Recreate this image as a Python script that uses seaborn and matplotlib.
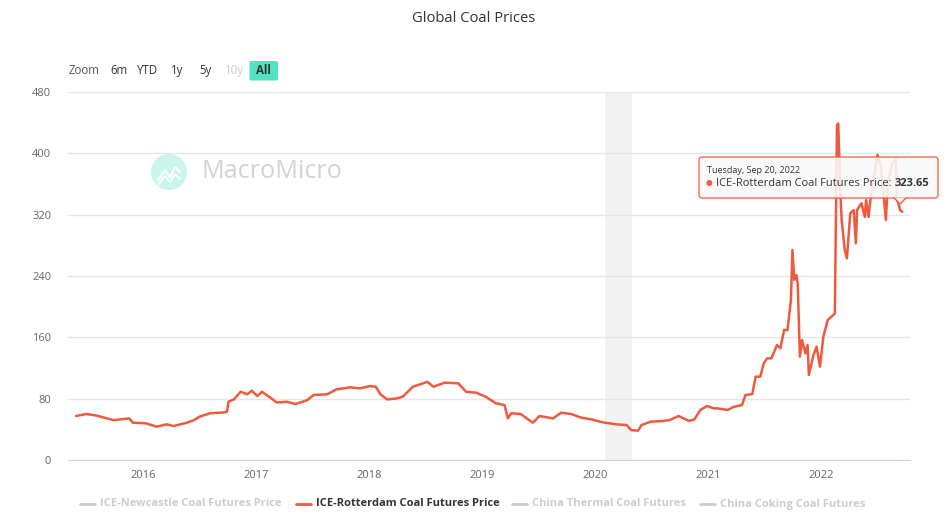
#Import libraries
import pandas as pd
import seaborn as sns
import matplotlib.pyplot as plt
from matplotlib.patches import FancyBboxPatch, Circle, Polygon

#Chart data
dates = [
    '2015-05-29', '2015-07-01', '2015-08-03', '2015-09-27', '2015-11-17', '2015-11-28',
    '2016-01-11', '2016-02-13', '2016-03-17', '2016-04-08', '2016-05-22', '2016-06-13',
    '2016-07-01', '2016-08-04', '2016-09-17', '2016-09-28', '2016-10-03', '2016-10-20',
    '2016-11-11', '2016-12-03', '2016-12-17', '2017-01-04', '2017-01-19', '2017-02-14',
    '2017-03-08', '2017-04-09', '2017-05-08', '2017-06-14', '2017-07-05', '2017-08-18',
    '2017-09-16', '2017-10-31', '2017-12-02', '2018-01-04', '2018-01-22', '2018-02-06',
    '2018-02-28', '2018-04-01', '2018-04-19', '2018-05-22', '2018-07-08', '2018-07-27',
    '2018-09-02', '2018-10-16', '2018-11-10', '2018-12-13', '2019-01-12', '2019-02-14',
    '2019-03-14', '2019-03-25', '2019-04-05', '2019-05-05', '2019-06-14', '2019-07-05',
    '2019-08-18', '2019-09-13', '2019-10-16', '2019-11-14', '2019-12-20', '2020-01-26',
    '2020-03-10', '2020-04-12', '2020-04-27', '2020-05-19', '2020-05-30', '2020-06-28',
    '2020-08-08', '2020-08-29', '2020-09-27', '2020-10-30', '2020-11-17', '2020-12-06',
    '2020-12-28', '2021-01-19', '2021-01-30', '2021-03-04', '2021-03-26', '2021-04-20',
    '2021-05-01', '2021-05-23', '2021-06-03', '2021-06-18', '2021-06-29', '2021-07-10',
    '2021-07-24', '2021-08-11', '2021-08-22', '2021-09-03', '2021-09-14', '2021-09-25',
    '2021-09-30', '2021-10-06', '2021-10-13', '2021-10-17', '2021-10-24', '2021-10-31',
    '2021-11-11', '2021-11-18', '2021-11-22', '2021-12-07', '2021-12-17', '2021-12-28',
    '2022-01-08', '2022-01-22', '2022-02-03', '2022-02-14', '2022-02-21', '2022-02-25',
    '2022-03-04', '2022-03-08', '2022-03-18', '2022-03-25', '2022-04-05', '2022-04-16',
    '2022-04-23', '2022-04-27', '2022-05-11', '2022-05-22', '2022-05-26', '2022-06-03',
    '2022-06-10', '2022-06-21', '2022-07-02', '2022-07-13', '2022-07-20', '2022-07-29',
    '2022-08-04', '2022-08-19', '2022-08-30', '2022-09-02', '2022-09-13', '2022-09-20',
]
prices = [
    57.4, 60.0, 58.0, 52.0, 54.3, 48.7,
    47.8, 43.5, 46.5, 44.3, 48.7, 52.0,
    56.5, 61.0, 62.0, 63.0, 76.0, 79.0,
    89.0, 85.7, 90.4, 83.5, 89.0, 81.7,
    75.0, 76.0, 73.0, 78.0, 84.8, 85.7,
    92.0, 94.8, 93.5, 96.5, 95.6, 85.7,
    79.0, 80.4, 82.6, 95.6, 102.0, 95.6,
    100.9, 100.0, 89.0, 87.8, 82.6, 74.0,
    71.7, 54.3, 61.0, 60.0, 48.7, 57.4,
    54.3, 61.7, 60.0, 55.6, 53.0, 49.1,
    46.5, 45.6, 39.0, 38.3, 45.6, 50.0,
    50.9, 52.2, 57.4, 50.9, 53.0, 65.2,
    70.4, 67.4, 67.4, 65.2, 69.6, 71.7,
    84.8, 86.0, 108.7, 108.7, 126.0, 132.6,
    132.6, 150.0, 145.7, 169.6, 169.6, 208.7,
    274.0, 234.8, 241.0, 230.4, 134.8, 156.5,
    139.0, 150.0, 110.9, 137.0, 147.8, 121.7,
    160.9, 182.6, 187.0, 191.0, 437.0, 439.0,
    348.0, 313.0, 274.0, 263.0, 322.0, 326.0,
    282.6, 326.0, 335.0, 317.0, 339.0, 317.0,
    343.0, 370.0, 398.0, 383.0, 352.0, 313.0,
    361.0, 387.0, 393.0, 343.0, 326.0, 323.65,
]
y_ticks = [0, 80, 160, 240, 320, 400, 480]
year_ticks = ['2016', '2017', '2018', '2019', '2020', '2021', '2022']
series_names = ['ICE-Newcastle Coal Futures Price', 'ICE-Rotterdam Coal Futures Price',
                'China Thermal Coal Futures', 'China Coking Coal Futures']
active_series = 'ICE-Rotterdam Coal Futures Price'
range_buttons = ['Zoom', '6m', 'YTD', '1y', '5y', '10y', 'All']
shade_band = ('2020-02-01', '2020-04-30')
tooltip_date = 'Tuesday, Sep 20, 2022'
tooltip_value = '323.65'

RED = '#ef5a3f'

#Build dataframe
df = pd.DataFrame({'date': pd.to_datetime(dates), 'price': prices})

sns.set_style('white')
plt.rcParams['font.family'] = ['Open Sans', 'DejaVu Sans']

fig = plt.figure(figsize=(9.48, 5.19), dpi=100)
ax = fig.add_axes([68 / 948, 1 - 460 / 519, 842 / 948, 368 / 519])

#Shaded band and line
ax.axvspan(pd.Timestamp(shade_band[0]), pd.Timestamp(shade_band[1]),
           color='#f2f2f2', zorder=0, lw=0)
sns.lineplot(x='date', y='price', data=df, ax=ax, color=RED, lw=1.8, zorder=3)

#Axes styling
ax.set_ylim(0, 480)
ax.set_yticks(y_ticks)
ax.set_xlim(pd.Timestamp('2015-05-03'), pd.Timestamp('2022-10-15'))
ax.set_xticks([pd.Timestamp(y + '-01-01') for y in year_ticks])
ax.set_xticklabels(year_ticks)
ax.grid(axis='y', color='#e6e6e6', lw=1)
ax.set_axisbelow(True)
for side in ['top', 'right', 'left']:
    ax.spines[side].set_visible(False)
ax.spines['bottom'].set_color('#ccd6eb')
ax.tick_params(axis='y', length=0, pad=12, labelsize=8, labelcolor='#666666')
ax.tick_params(axis='x', length=0, pad=7, labelsize=8, labelcolor='#666666')
ax.set_xlabel('')
ax.set_ylabel('')

#Overlay in pixel coordinates for the decorations
ov = fig.add_axes([0, 0, 1, 1], zorder=5)
ov.set_xlim(0, 948)
ov.set_ylim(519, 0)
ov.axis('off')
ov.patch.set_alpha(0)

#Title
ov.text(474, 18, 'Global Coal Prices', ha='center', va='center', fontsize=10.6, color='#333333')

#Range selector
btn_x = [69, 119, 148, 177, 205, 234, 263.5]
for label, bx in zip(range_buttons, btn_x):
    color = '#333333'
    weight = 'normal'
    if label == 'Zoom':
        color = '#555555'
    if label == '10y':
        color = '#cccccc'
    if label == 'All':
        ov.add_patch(FancyBboxPatch((249.5, 61), 28.5, 19.5, boxstyle='round,pad=0,rounding_size=2',
                                    fc='#4fe3c1', ec='none'))
        weight = 'bold'
    ha = 'center' if label != 'Zoom' else 'left'
    ov.text(bx, 70.5, label, ha=ha, va='center', fontsize=8.3, color=color, fontweight=weight)

#Watermark
ov.add_patch(Circle((169, 172), 18, fc='#c9f5eb', ec='none'))
ov.plot([158, 165, 170, 175, 180], [180, 170, 177, 167, 172], color='white', lw=1.6)
ov.plot([158, 165, 170, 175, 180], [185, 176, 182, 174, 179], color='white', lw=1.2)
ov.text(202, 172, 'MacroMicro', ha='left', va='center', fontsize=18.2, color='#d3d3d3')

#Tooltip
ov.add_patch(FancyBboxPatch((699, 157), 239, 41, boxstyle='round,pad=0,rounding_size=3',
                            fc='#f9f9f9', ec=RED, lw=1, alpha=0.88))
ov.add_patch(Polygon([[894, 197.5], [906, 197.5], [900, 204]], closed=True,
                     fc='#f9f9f9', ec='none', alpha=0.88))
ov.plot([894, 900, 906], [198, 204, 198], color=RED, lw=1)
ov.text(707, 170.5, tooltip_date, ha='left', va='center', fontsize=6.5, color='#333333')
ov.text(709, 183, '\u25cf', ha='center', va='center', fontsize=5.5, color=RED)
t = ov.text(716, 183, active_series + ':', ha='left', va='center', fontsize=8, color='#333333')
fig.canvas.draw()
bb = t.get_window_extent()
ov.annotate(tooltip_value, xy=(bb.x1 + 3, 519 - 183), xycoords='figure pixels', ha='left',
            va='center', fontsize=8, color='#333333', fontweight='bold')

#Legend
leg_x = [80, 296, 512, 700]
for name, lx in zip(series_names, leg_x):
    active = name == active_series
    lc = RED if active else '#cccccc'
    tc = '#333333' if active else '#cccccc'
    ov.plot([lx, lx + 15], [504, 504], color=lc, lw=2)
    ov.text(lx + 20, 504, name, ha='left', va='center', fontsize=8, color=tc, fontweight='bold')

plt.savefig('out.png', dpi=100)
